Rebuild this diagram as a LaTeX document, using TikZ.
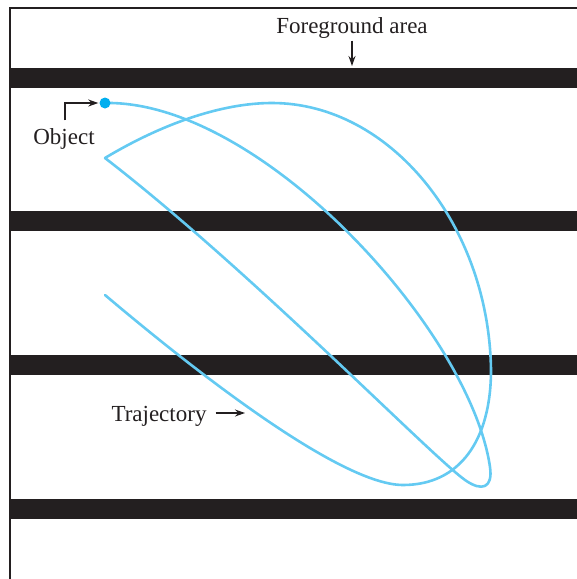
\documentclass[tikz,border=0pt]{standalone}
\usepackage{fontspec}
\setmainfont{Liberation Serif}
\usetikzlibrary{arrows.meta}
\definecolor{barc}{RGB}{35,31,32}
\definecolor{trajc}{RGB}{100,202,242}
\definecolor{dotc}{RGB}{0,174,239}
\tikzset{
  bar/.style={fill=barc,draw=none},
  traj/.style={draw=trajc,line width=2.6pt,line join=round,line cap=round},
  lbl/.style={font=\fontsize{23}{26}\selectfont,text=barc,inner sep=1pt},
  ptr/.style={draw=barc,line width=1.3pt,-{Stealth[length=10pt,width=7pt]}}
}
\begin{document}
\begin{tikzpicture}[x=1pt,y=-1pt]
\useasboundingbox (0,0) rectangle (577,579);
% frame
\draw[barc,line width=2pt] (10,579) -- (10,8) -- (577,8);
% bars
\foreach \y in {68,211,355,499} {
  \fill[bar] (10,\y) rectangle (577,\y+20);
}
% trajectory part 1: object -> loop tip -> cusp
\draw[traj] (105,103) .. controls (260,100) and (470,330) .. (490,467)
  .. controls (493,488) and (482,492) .. (465,480)
  .. controls (430,455) and (250,270) .. (105,158);
% trajectory part 2: cusp -> big loop -> end
\draw[traj] (105,158) .. controls (160,125) and (220,103) .. (272,103)
  .. controls (390,103) and (489,225) .. (491,370)
  .. controls (491,440) and (460,485) .. (403,485)
  .. controls (335,485) and (170,350) .. (105,295);
% object dot
\node[circle,fill=dotc,minimum size=11pt,inner sep=0pt] (dot) at (105,103) {};
% labels
\node[lbl] (fg) at (352,28) {Foreground area};
\node[lbl] (obj) at (64,139) {Object};
\node[lbl] (tr) at (159,416) {Trajectory};
\coordinate (fgt) at (352,66);
\coordinate (trt) at (245,413);
\draw[ptr] ([yshift=-1pt]fg.south) -- (fgt);
\draw[ptr] ([xshift=1pt,yshift=7pt]obj.north) |- ([xshift=-1pt]dot.west);
\draw[ptr] ([xshift=8pt,yshift=3pt]tr.east) -- (trt);
\end{tikzpicture}
\end{document}
